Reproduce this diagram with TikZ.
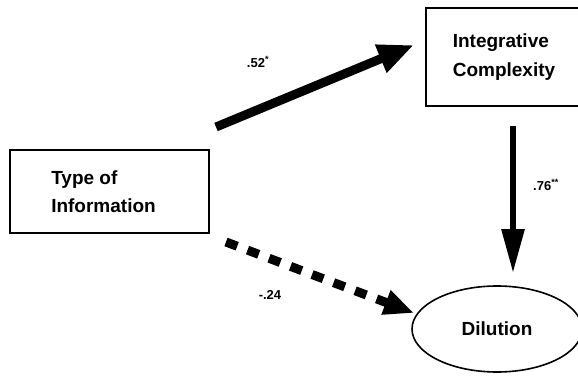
\documentclass[tikz,border=0pt]{standalone}
\usepackage{fontspec}
\setmainfont{Liberation Sans}
\usetikzlibrary{arrows.meta,shapes.geometric}
\begin{document}
\begin{tikzpicture}[x=1pt,y=-1pt,
  box/.style={draw, line width=1.6pt, rectangle, inner sep=0pt, align=left,
    font=\fontsize{19}{28.5}\selectfont\bfseries},
  oval/.style={draw, line width=1.6pt, ellipse, inner sep=0pt,
    font=\fontsize{19}{28}\selectfont\bfseries},
  thick arrow/.style={line width=9pt, -{Triangle[length=36pt,width=28pt]}},
  mid arrow/.style={line width=6pt, -{Triangle[length=44pt,width=22pt]}},
  dash arrow/.style={line width=9pt, dash pattern=on 12pt off 11pt,
    -{Triangle[length=30pt,width=24pt]}},
  coef/.style={font=\fontsize{13}{15}\selectfont\bfseries}]
\useasboundingbox (0,0) rectangle (578,382);
\node[box, minimum width=199pt, minimum height=83pt] (tinfo) at (109.5,191.5) {Type of\\Information\hspace*{12pt}};
\node[box, minimum width=156pt, minimum height=98pt] (ic) at (504,57) {Integrative\\Complexity};
\node[oval, minimum width=170pt, minimum height=86pt] (dil) at (497,329) {Dilution};
\coordinate (s1) at (216,127);
\coordinate (e1) at (414,45);
\coordinate (s2) at (513,126);
\coordinate (e2) at (513,273);
\coordinate (s3) at (226,242);
\coordinate (e3) at (414,313);
\draw[thick arrow] (s1) -- (e1);
\draw[mid arrow] (s2) -- (e2);
\draw[dash arrow] (s3) -- (e3);
\node[coef] (l1) at (258,62) {.52\textsuperscript{*}};
\node[coef] (l2) at (546,185) {.76\textsuperscript{**}};
\node[coef] (l3) at (270,295) {-.24};
\end{tikzpicture}
\end{document}
